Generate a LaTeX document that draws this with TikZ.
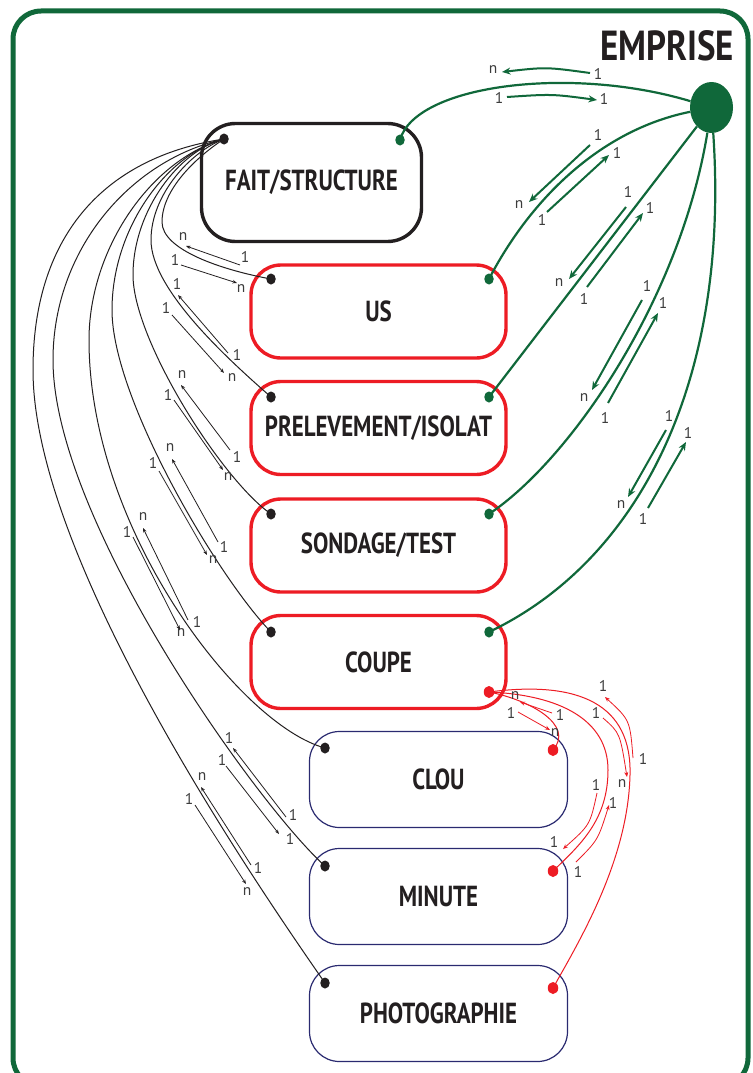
\documentclass[tikz,border=0pt]{standalone}
\usepackage{fontspec}
\setmainfont{PT Sans}
\newfontfamily\mycondfont[FakeStretch=0.79]{PT Sans}
\newfontfamily\myempcond[FakeStretch=0.83]{PT Sans}
\usetikzlibrary{arrows.meta,shapes.geometric}
\definecolor{eg}{RGB}{16,104,58}
\definecolor{rd}{RGB}{237,28,36}
\definecolor{nv}{RGB}{42,42,112}
\definecolor{blk}{RGB}{35,31,32}
\definecolor{labc}{RGB}{60,60,60}
\newcommand\myboxfont{\mycondfont\bfseries\fontsize{29}{29}\selectfont}
\newcommand\myempfont{\myempcond\bfseries\fontsize{42}{42}\selectfont}
\newcommand\mylabfont{\fontsize{15.5}{15.5}\selectfont}
\tikzset{
  faitbox/.style={draw=blk, line width=3.4pt, rounded corners=34pt, minimum width=220pt, minimum height=118pt, inner sep=0pt, font=\myboxfont, text=blk},
  redbox/.style={draw=rd, line width=3.4pt, rounded corners=30pt, minimum width=255pt, minimum height=93pt, inner sep=0pt, font=\myboxfont, text=blk},
  navbox/.style={draw=nv, line width=1.2pt, rounded corners=30pt, minimum width=258pt, minimum height=96pt, inner sep=0pt, font=\myboxfont, text=blk},
  bdot/.style={ellipse, fill=blk, inner sep=0pt, minimum width=9.5pt, minimum height=11pt},
  gdot/.style={ellipse, fill=eg, inner sep=0pt, minimum width=9.5pt, minimum height=11pt},
  rdot/.style={ellipse, fill=rd, inner sep=0pt, minimum width=10.5pt, minimum height=12pt},
  lab/.style={font=\mylabfont, text=labc, inner sep=0pt},
  bline/.style={blk, line width=1pt},
  gline/.style={eg, line width=2.2pt},
  rline/.style={rd, line width=1pt},
  garr/.style={eg, line width=2pt, -{Stealth[length=8.5pt,width=7pt]}},
  barr/.style={blk, line width=0.8pt, -{Stealth[length=4.5pt,width=3.5pt]}},
  rarr/.style={rd, line width=0.8pt, -{Stealth[length=5pt,width=4pt]}}
}
\begin{document}
\begin{tikzpicture}[x=1pt,y=-1pt]
\useasboundingbox (0,0) rectangle (752,1073);
\fill[white] (0,0) rectangle (752,1073);
\draw[eg, line width=5pt, rounded corners=28pt] (13,11) rectangle (748,1086);
\node[anchor=base east, font=\myempfont, text=blk, inner sep=0pt] (emptitle) at (734,60) {EMPRISE};
\node[ellipse, fill=eg, minimum width=43pt, minimum height=51pt, inner sep=0pt] (emp) at (711.5,107.5) {};

% boxes
\node[faitbox] (fait) at (311.5,182.5) {FAIT/STRUCTURE};
\node[redbox] (us) at (378.5,311.5) {US};
\node[redbox] (prel) at (378.5,428) {PRELEVEMENT/ISOLAT};
\node[redbox] (sond) at (378.5,545.5) {SONDAGE/TEST};
\node[redbox] (coupe) at (378.5,662) {COUPE};
\node[navbox] (clou) at (438.5,779.5) {CLOU};
\node[navbox] (minute) at (438.5,896.5) {MINUTE};
\node[navbox] (photo) at (438.5,1013.5) {PHOTOGRAPHIE};

% dots
\node[bdot] (fdot) at (224,139) {};
\node[bdot] (udot) at (271,279) {};
\node[bdot] (pdot) at (271,397) {};
\node[bdot] (sdot) at (271,514) {};
\node[bdot] (cdot) at (271,632) {};
\node[bdot] (ldot) at (325,748) {};
\node[bdot] (mdot) at (325,866) {};
\node[bdot] (hdot) at (325,983) {};
\node[gdot] (gfd) at (400,140) {};
\node[gdot] (gud) at (489,279) {};
\node[gdot] (gpd) at (489,397) {};
\node[gdot] (gsd) at (489,514) {};
\node[gdot] (gcd) at (489,632) {};
\node[rdot] (rcd) at (489,692) {};
\node[rdot] (rld) at (553,750) {};
\node[rdot] (rmd) at (553,871) {};
\node[rdot] (rhd) at (553,988) {};

% green connectors
\draw[gline] (gfd.center) .. controls (415,85) and (570,65) .. (emp);
\draw[gline] (gud.center) .. controls (530,200) and (600,130) .. (emp);
\draw[gline] (gpd.center) -- (emp);
\draw[gline] (gsd.center) .. controls (570,460) and (680,300) .. (emp);
\draw[gline] (gcd.center) .. controls (640,560) and (730,380) .. (emp);

% black connectors
\draw[bline] (fdot.center) .. controls (195,158) and (162,190) .. (162,222) .. controls (162,250) and (222,270) .. (udot.center);
\draw[bline] (fdot.center) .. controls (190,152) and (151,195) .. (151,240) .. controls (151,290) and (230,361) .. (pdot.center);
\draw[bline] (fdot.center) .. controls (180,150) and (133,210) .. (133,275) .. controls (133,340) and (222,480) .. (sdot.center);
\draw[bline] (fdot.center) .. controls (165,155) and (112,230) .. (112,310) .. controls (112,400) and (220,580) .. (cdot.center);
\draw[bline] (fdot.center) .. controls (150,160) and (89,250) .. (89,340) .. controls (89,530) and (240,725) .. (ldot.center);
\draw[bline] (fdot.center) .. controls (130,160) and (53,250) .. (53,360) .. controls (53,520) and (258,806) .. (mdot.center);
\draw[bline] (fdot.center) .. controls (100,158) and (33,240) .. (33,370) .. controls (33,560) and (257,885) .. (hdot.center);

% red connectors
\draw[rline] (rcd.center) .. controls (530,700) and (575,725) .. (rld.center);
\draw[rline] (rcd.center) .. controls (560,695) and (608,720) .. (608,770) .. controls (608,820) and (580,845) .. (rmd.center);
\draw[rline] (rcd.center) .. controls (580,680) and (632,705) .. (630,775) .. controls (628,860) and (580,940) .. (rhd.center);

% green cardinality arrows
\draw[garr] (590,73) .. controls (546,67) .. (502,72);
\draw[garr] (507,97) .. controls (552,94) .. (597,100);
\draw[garr] (590,145) -- (529,202);
\draw[garr] (547,212) -- (609,155);
\draw[garr] (626,207) -- (569,279);
\draw[garr] (587,287) -- (643,213);
\draw[garr] (642,300) -- (592,390);
\draw[garr] (608,403) -- (658,313);
\draw[garr] (666,430) -- (628,497);
\draw[garr] (648,508) -- (686,442);

% black cardinality arrows
\foreach \ax/\ay/\bx/\by in {240/265/186/246, 181/265/237/283, 228/353/178/295, 172/315/224/373,
  230/450/181/385, 174/400/223/470, 218/542/172/459, 159/471/207/555, 188/620/143/528, 133/537/180/630,
  286/817/233/748, 226/766/279/834, 251/865/201/787, 195/805/246/884}
  \draw[barr] (\ax,\ay) -- (\bx,\by);

% red cardinality arrows
\draw[rarr] (552,713) -- (520,702);
\draw[rarr] (518,712) -- (550,730);
\draw[rarr] (597,793) .. controls (590,825) .. (563,849);
\draw[rarr] (576,862) .. controls (598,840) .. (609,805);
\draw[rarr] (603,718) .. controls (620,733) .. (627,777);
\draw[rarr] (633,758) .. controls (630,720) .. (605,697);

% labels
\foreach \nm/\x/\y/\t in {ga1/493/70/n, ga2/598/74/1, ga3/499/98/1, ga4/604/99/1,
  gb1/598/135/1, gb2/519/205/n, gb3/542/220/1, gb4/617/153/1,
  gc1/628/192/1, gc2/559/283/n, gc3/584/299/1, gc4/650/208/1,
  gd1/647/286/1, gd2/584/398/n, gd3/605/418/1, gd4/663/303/1,
  ge1/669/416/1, ge2/621/505/n, ge3/643/519/1, ge4/688/433/1,
  ba1/245/257/1, ba2/183/237/n, ba3/175/260/1, ba4/241/289/n,
  bb1/177/284/1, bb2/237/355/1, bb3/166/308/1, bb4/232/378/n,
  bc1/182/375/n, bc2/237/457/1, bc3/168/395/1, bc4/228/477/n,
  bd1/170/448/n, bd2/224/547/1, bd3/153/463/1, bd4/213/560/n,
  be1/143/517/n, be2/197/622/1, be3/127/532/1, be4/181/633/n,
  bf1/229/738/1, bf2/293/815/1, bf3/222/760/1, bf4/290/839/1,
  bg1/202/777/n, bg2/258/868/1, bg3/189/799/1, bg4/247/892/n,
  ra1/515/696/n, ra2/511/713/1, ra3/560/715/1, ra4/555/733/n,
  rb1/596/785/1, rb2/554/842/1, rb3/578/872/1, rb4/613/803/1,
  rc1/603/686/1, rc2/596/713/1, rc3/643/759/1, rc4/622/784/n}
  \node[lab] (\nm) at (\x,\y) {\t};
\end{tikzpicture}
\end{document}
